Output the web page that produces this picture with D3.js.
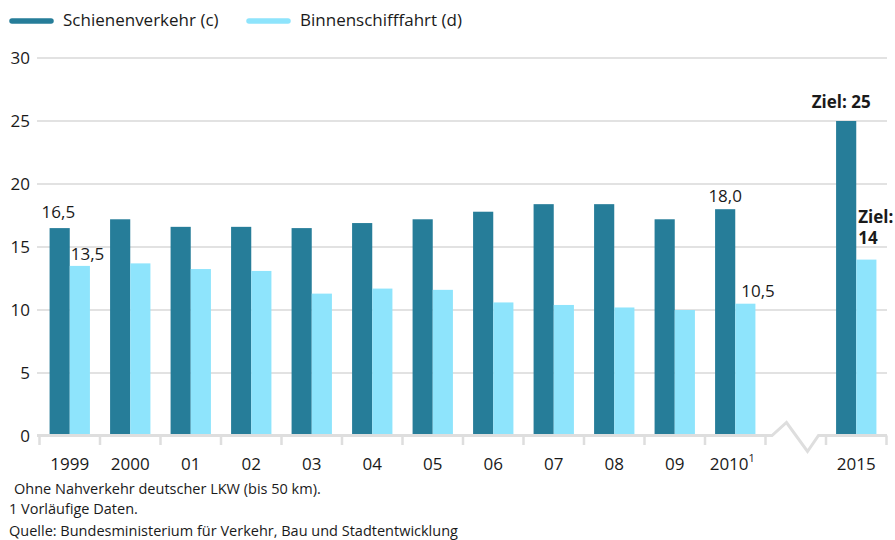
<!DOCTYPE html>
<html>
<head>
<meta charset="utf-8">
<script src="https://cdn.jsdelivr.net/npm/d3@7"></script>
<style>
  body { margin: 0; background: #fff; }
  svg text { font-family: "Open Sans", Lato, sans-serif; fill: #1a1a1a; }
</style>
</head>
<body>
<div id="chart"></div>
<script>
// Daten
const years = ["1999", "2000", "01", "02", "03", "04", "05", "06", "07", "08", "09", "2010", "gap", "2015"];
const schiene = [16.5, 17.2, 16.6, 16.6, 16.5, 16.9, 17.2, 17.8, 18.4, 18.4, 17.2, 18.0, null, 25];
const binnen = [13.5, 13.7, 13.25, 13.1, 11.3, 11.7, 11.6, 10.6, 10.4, 10.2, 10.0, 10.5, null, 14];
const seriesNames = ["Schienenverkehr (c)", "Binnenschifffahrt (d)"];
const yTicks = [0, 5, 10, 15, 20, 25, 30];
const footnotes = [
  "Ohne Nahverkehr deutscher LKW (bis 50 km).",
  "1 Vorläufige Daten.",
  "Quelle: Bundesministerium für Verkehr, Bau und Stadtentwicklung"
];

const width = 895, height = 540;
const colors = ["#267d99", "#8ee4fc"];

const svg = d3.select("#chart").append("svg")
  .attr("width", width)
  .attr("height", height);

const x = d3.scaleBand().domain(years).range([39.5, 886.5]).padding(0);
const x1 = d3.scaleBand().domain([0, 1]).range([0, x.bandwidth()]).paddingOuter(0.5);
const y = d3.scaleLinear().domain([0, 30]).range([436, 58]);

// Gitternetz
svg.append("g").selectAll("line")
  .data(yTicks.filter(d => d > 0))
  .enter().append("line")
  .attr("x1", 37).attr("x2", 887)
  .attr("y1", d => y(d)).attr("y2", d => y(d))
  .attr("stroke", "#e2e2e2")
  .attr("stroke-width", 2);

// y-Achse Beschriftung
svg.append("g").selectAll("text")
  .data(yTicks)
  .enter().append("text")
  .attr("x", 30)
  .attr("y", d => y(d) + 6)
  .attr("text-anchor", "end")
  .style("font-size", "17px")
  .text(d => d);

// Balken
const data = years.map((yr, i) => ({ yr, vals: [schiene[i], binnen[i]] }))
  .filter(d => d.vals[0] != null);

const groups = svg.append("g").selectAll("g")
  .data(data)
  .enter().append("g")
  .attr("transform", d => `translate(${x(d.yr)},0)`);

groups.selectAll("rect")
  .data(d => d.vals.map((v, k) => ({ k, v })))
  .enter().append("rect")
  .attr("x", d => x1(d.k))
  .attr("width", x1.bandwidth())
  .attr("y", d => y(d.v))
  .attr("height", d => y(0) - y(d.v))
  .attr("fill", d => colors[d.k]);

// x-Achse mit Bruch
const axisY = 435.5;
const g0 = x("gap");
const axisPath = d3.path();
axisPath.moveTo(37, axisY);
axisPath.lineTo(g0 + 6.5, axisY);
axisPath.lineTo(g0 + 21, axisY - 13);
axisPath.lineTo(g0 + 42, axisY + 16);
axisPath.lineTo(g0 + 53, axisY);
axisPath.lineTo(887, axisY);
svg.append("path")
  .attr("d", axisPath.toString())
  .attr("fill", "none")
  .attr("stroke", "#dedede")
  .attr("stroke-width", 3)
  .attr("stroke-linejoin", "miter");

const tickPos = years.map(d => x(d)).concat([x.range()[1]]);
svg.append("g").selectAll("line")
  .data(tickPos)
  .enter().append("line")
  .attr("x1", d => d).attr("x2", d => d)
  .attr("y1", axisY).attr("y2", 445)
  .attr("stroke", "#dedede")
  .attr("stroke-width", 2.5);

// x-Achse Beschriftung
const xl = svg.append("g").selectAll("text")
  .data(years.filter(d => d !== "gap"))
  .enter().append("text")
  .attr("x", d => x(d) + x.bandwidth() / 2)
  .attr("y", 470)
  .attr("text-anchor", "middle")
  .style("font-size", "17px");
xl.text(d => d);
xl.filter(d => d === "2010").attr("x", d => x(d) + x.bandwidth() / 2 - 3)
  .append("tspan").attr("dy", -8).style("font-size", "11px").text("1");

// Wertebeschriftungen
const lab = svg.append("g").style("font-size", "17px");
const bx = (yr, k) => x(yr) + x1(k);
lab.append("text").attr("x", bx("1999", 0) - 8).attr("y", y(16.5) - 10).text("16,5");
lab.append("text").attr("x", bx("1999", 1) + 1).attr("y", y(13.5) - 6).text("13,5");
lab.append("text").attr("x", bx("2010", 0) + x1.bandwidth() / 2).attr("y", y(18.0) - 7)
  .attr("text-anchor", "middle").text("18,0");
lab.append("text").attr("x", bx("2010", 1) + 6).attr("y", y(10.5) - 7).text("10,5");
lab.append("text").attr("x", bx("2015", 0) + x1.bandwidth() / 2 - 5).attr("y", y(25) - 13)
  .attr("text-anchor", "middle").style("font-weight", "bold").text("Ziel: 25");
const z14 = lab.append("text").attr("x", bx("2015", 1) + 2).attr("y", y(14) - 37)
  .style("font-weight", "bold");
z14.append("tspan").text("Ziel:");
z14.append("tspan").attr("x", bx("2015", 1) + 2).attr("dy", 21).text("14");

// Legende
const leg = svg.append("g");
const legX = [10, 247];
seriesNames.forEach((name, i) => {
  leg.append("line")
    .attr("x1", legX[i] + 2).attr("x2", legX[i] + 41)
    .attr("y1", 21).attr("y2", 21)
    .attr("stroke", colors[i])
    .attr("stroke-width", 5.5)
    .attr("stroke-linecap", "round");
  leg.append("text")
    .attr("x", legX[i] + 53)
    .attr("y", 26)
    .style("font-size", "17px")
    .text(name);
});

// Fußnoten
svg.append("g").selectAll("text")
  .data(footnotes)
  .enter().append("text")
  .attr("x", (d, i) => i === 0 ? 14 : 9)
  .attr("y", (d, i) => [494, 514, 536][i])
  .style("font-size", "14.5px")
  .text(d => d);
</script>
</body>
</html>
